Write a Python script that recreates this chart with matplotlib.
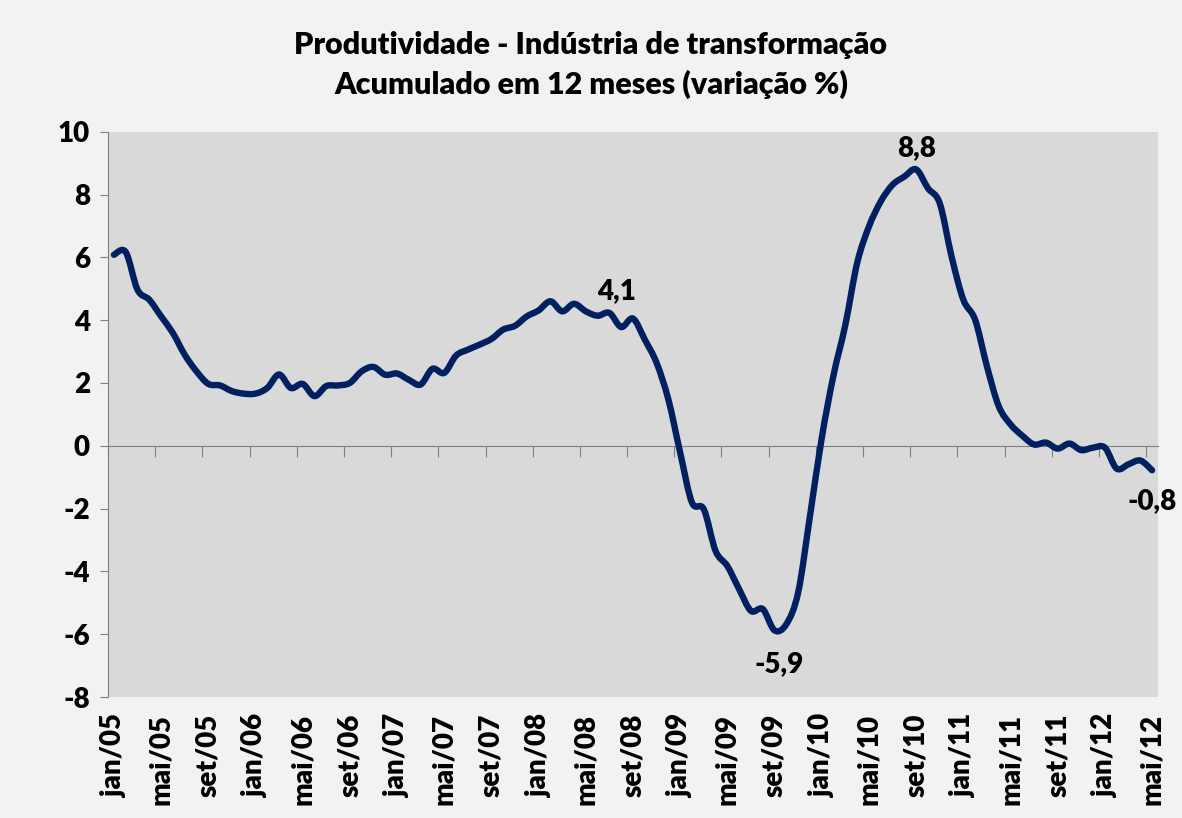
import numpy as np
import matplotlib.pyplot as plt
from matplotlib import transforms
from matplotlib.path import Path
from matplotlib.patches import PathPatch

# monthly 12-month accumulated productivity change, jan/05 .. mai/12
months = ["jan", "fev", "mar", "abr", "mai", "jun", "jul", "ago", "set", "out", "nov", "dez"]
categories = [f"{m}/{y:02d}" for y in range(5, 13) for m in months][:89]

values = [
    6.08, 6.17, 4.97, 4.65, 4.12, 3.59, 2.90, 2.37, 1.97, 1.92, 1.74, 1.66,
    1.66, 1.84, 2.27, 1.84, 1.97, 1.58, 1.90, 1.92, 2.00, 2.37, 2.51, 2.26,
    2.30, 2.10, 1.95, 2.45, 2.32, 2.87, 3.06, 3.22, 3.40, 3.70, 3.82, 4.12,
    4.31, 4.60, 4.28, 4.52, 4.28, 4.14, 4.23, 3.78, 4.05, 3.38, 2.64, 1.47,
    -0.22, -1.81, -2.02, -3.35, -3.83, -4.57, -5.26, -5.20, -5.88, -5.68, -4.67, -2.24,
    0.25, 2.25, 3.85, 5.82, 6.98, 7.78, 8.31, 8.57, 8.80, 8.20, 7.72, 6.03,
    4.65, 4.01, 2.53, 1.26, 0.68, 0.32, 0.04, 0.10, -0.09, 0.07, -0.14, -0.06,
    -0.06, -0.73, -0.59, -0.47, -0.78,
]

# annotated points: (index, text, dx, dy) offsets in points
labels = [(44, "4,1", -12, 20), (68, "8,8", 0, 15), (56, "-5,9", 3, -24), (88, "-0,8", 0, -22)]

title = "Produtividade - Indústria de transformação\nAcumulado em 12 meses (variação %)"

plt.rcParams["font.family"] = ["Lato", "DejaVu Sans"]
plt.rcParams["axes.unicode_minus"] = False

fig = plt.figure(figsize=(11.82, 8.18), dpi=100, facecolor="#F2F2F2")
ax = fig.add_axes([108 / 1182, 1 - 697 / 818, 1050 / 1182, (697 - 131.7) / 818])
ax.set_facecolor("#D9D9D9")

# smoothed line like the spreadsheet: cubic bezier segments through every point
x = np.arange(len(values), dtype=float)
y = np.asarray(values, dtype=float)
pts = np.column_stack([x, y])
ext = np.vstack([pts[0], pts, pts[-1]])
verts = [pts[0]]
codes = [Path.MOVETO]
for i in range(len(pts) - 1):
    p0, p1, p2, p3 = ext[i], ext[i + 1], ext[i + 2], ext[i + 3]
    verts += [p1 + (p2 - p0) / 6, p2 - (p3 - p1) / 6, p2]
    codes += [Path.CURVE4] * 3
ax.add_patch(PathPatch(Path(verts, codes), facecolor="none", edgecolor="#002060",
                       lw=4.6, joinstyle="round", capstyle="round", zorder=3))

ax.set_xlim(-0.5, len(values) - 0.5)
ax.set_ylim(-8, 10)
ax.set_yticks(range(-8, 11, 2))
ax.tick_params(axis="y", length=6, color="#808080", labelsize=20, pad=7)
for t in ax.get_yticklabels():
    t.set_fontweight("heavy")

# horizontal axis sits at zero, tick marks between categories
ax.spines["bottom"].set_position(("data", 0))
ax.spines["bottom"].set_color("#808080")
ax.spines["left"].set_color("#808080")
ax.spines["top"].set_visible(False)
ax.spines["right"].set_visible(False)
ax.set_xticks(np.arange(-0.5, len(values), 4))
ax.tick_params(axis="x", length=8, color="#808080", labelbottom=False)

trans = transforms.blended_transform_factory(ax.transData, ax.transAxes)
for i in range(0, len(values), 4):
    ax.text(i, -0.03, categories[i], rotation=90, ha="center", va="top",
            fontsize=20, fontweight="heavy", transform=trans)

for i, txt, dx, dy in labels:
    ax.annotate(txt, (i, values[i]), xytext=(dx, dy), textcoords="offset points",
                ha="center", va="center", fontsize=20, fontweight="heavy")

fig.text(0.5, 0.921, title, ha="center", va="center", fontsize=22,
         fontweight="heavy", linespacing=1.45)

fig.savefig("out.png", dpi=100, facecolor=fig.get_facecolor())
